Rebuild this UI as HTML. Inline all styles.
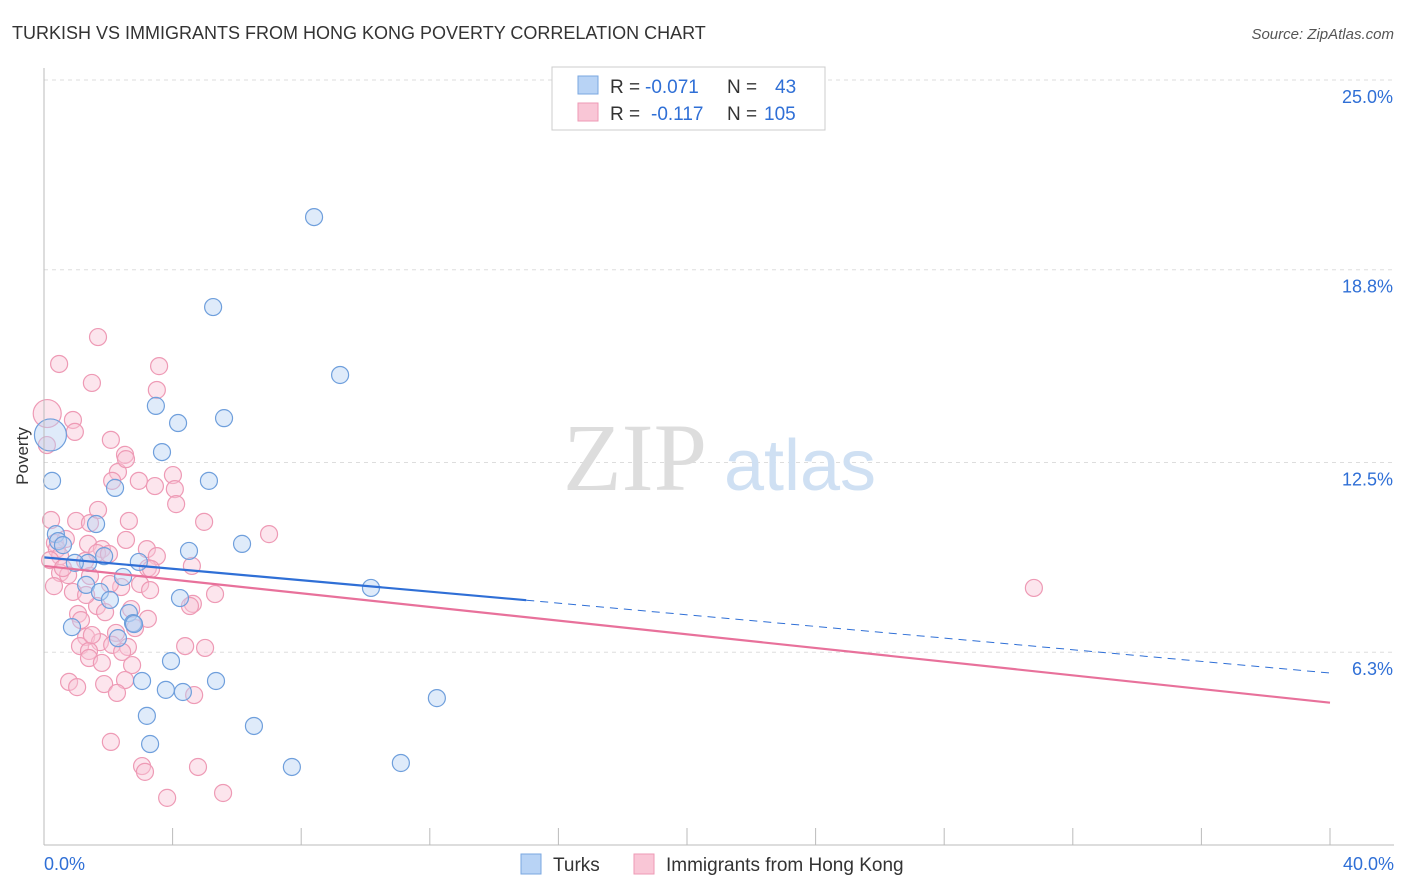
<!DOCTYPE html>
<html><head><meta charset="utf-8"><style>
body{margin:0;background:#fff;font-family:"Liberation Sans",sans-serif}
svg{display:block}
</style></head><body>
<svg id="chart" width="1406" height="892">
<text x="12" y="39" font-size="18" fill="#333">TURKISH VS IMMIGRANTS FROM HONG KONG POVERTY CORRELATION CHART</text>
<text x="1394" y="39" font-size="15" fill="#555" text-anchor="end" font-style="italic">Source: ZipAtlas.com</text>
<g id="grid"></g>
<text x="635" y="490" font-size="96" fill="#ddd" text-anchor="middle" font-family="Liberation Serif">ZIP</text>
<text x="800" y="490" font-size="72" fill="#cfe0f3" text-anchor="middle">atlas</text>
<g id="points"></g>
<g id="lines"></g>
<g id="axes"></g>
<text x="28" y="456" font-size="17" fill="#333" transform="rotate(-90 28 456)" text-anchor="middle">Poverty</text>
<g>
<rect x="552" y="67" width="273" height="63" fill="#fff" stroke="#ccc"/>
<rect x="578" y="76" width="20" height="18" fill="#b8d3f5" stroke="#7aa7e0"/>
<rect x="578" y="103" width="20" height="18" fill="#f9c6d6" stroke="#ee9ab5"/>
<text x="610" y="93" font-size="19" fill="#333">R =</text>
<text x="645" y="93" font-size="19" fill="#2f6fd6">-0.071</text>
<text x="727" y="93" font-size="19" fill="#333">N =</text>
<text x="775" y="93" font-size="19" fill="#2f6fd6">43</text>
<text x="610" y="120" font-size="19" fill="#333">R =</text>
<text x="651" y="120" font-size="19" fill="#2f6fd6">-0.117</text>
<text x="727" y="120" font-size="19" fill="#333">N =</text>
<text x="764" y="120" font-size="19" fill="#2f6fd6">105</text>
</g>
<g>
<rect x="521" y="854" width="20" height="20" fill="#b8d3f5" stroke="#7aa7e0"/>
<text x="553" y="871" font-size="19" fill="#333">Turks</text>
<rect x="634" y="854" width="20" height="20" fill="#f9c6d6" stroke="#ee9ab5"/>
<text x="666" y="871" font-size="19" fill="#333">Immigrants from Hong Kong</text>
</g>
</svg>
<script>
const NS="http://www.w3.org/2000/svg";
const yTicks=[25,18.8,12.5,6.3];
const yTickLabels=["25.0%","18.8%","12.5%","6.3%"];
const xLabels=["0.0%","40.0%"];
const bluePx=[[314,217],[213,307],[340,375],[156,406],[178,423],[224,418],[162,452],[209,481],[115,488],[52,481],[96,524],[56,534],[242,544],[189,551],[104,556],[139,562],[88,563],[123,577],[86,585],[100,592],[110,600],[180,598],[371,588],[129,613],[133,623],[72,627],[118,638],[171,661],[142,681],[166,690],[183,692],[216,681],[437,698],[147,716],[254,726],[150,744],[292,767],[401,763],[58,541],[63,545],[75,563],[134,624]];
const pinkPx=[[98,337],[59,364],[159,366],[92,383],[157,390],[73,420],[75,432],[111,440],[47,445],[125,455],[118,472],[173,475],[139,481],[155,486],[175,489],[112,481],[176,504],[51,520],[76,521],[204,522],[129,521],[90,523],[269,534],[126,540],[55,543],[88,544],[102,549],[66,539],[147,549],[57,549],[60,556],[97,553],[157,556],[109,554],[85,561],[148,568],[60,573],[68,575],[90,576],[192,566],[54,586],[121,587],[140,584],[73,592],[151,569],[215,594],[97,606],[193,604],[78,614],[81,620],[131,609],[148,619],[116,633],[86,637],[80,646],[100,642],[112,645],[128,647],[89,651],[185,646],[205,648],[122,652],[89,658],[102,663],[132,665],[69,682],[104,684],[77,687],[125,680],[194,695],[117,693],[111,742],[142,766],[198,767],[145,772],[223,793],[167,798],[1034,588],[126,459],[98,510],[50,560],[63,568],[110,584],[150,590],[86,595],[190,606],[105,612],[135,628],[92,635]];
const blueData=bluePx.map(p=>[+((p[0]-44)/1286*40).toFixed(2),+(25-(p[1]-80)/30.6).toFixed(2)]);
const pinkData=pinkPx.map(p=>[+((p[0]-44)/1286*40).toFixed(2),+(25-(p[1]-80)/30.6).toFixed(2)]);
const blueBig=[[0.2,13.4]];
const pinkBig=[[0.1,14.1]];
const blueTrend=[[0,9.4],[15,8.0],[40,5.62]];
const pinkTrend=[[0,9.12],[40,4.65]];
const X=v=>44+v/40*1286, Y=v=>80+(25-v)*30.6;
function mk(t,a,p){const e=document.createElementNS(NS,t);for(const k in a)e.setAttribute(k,a[k]);p.appendChild(e);return e;}
const grid=document.getElementById('grid'),axes=document.getElementById('axes');
yTicks.forEach((t,i)=>{
 const l=mk('line',{x1:44,x2:1394,y1:Y(t),y2:Y(t),stroke:'#ddd','stroke-dasharray':'4,4'},grid);
 
 
 const tx=mk('text',{x:1393,y:Y(t)+23,'font-size':18,fill:'#2f6fd6','text-anchor':'end'},axes);
 tx.textContent=yTickLabels[i];
 
 
});
const ax=mk('line',{x1:44,x2:1394,y1:845,y2:845,stroke:'#bbb'},axes);


const ay=mk('line',{x1:44,x2:44,y1:68,y2:845,stroke:'#bbb'},axes);


for(let i=0;i<=10;i++){const t=mk('line',{x1:X(i*4),x2:X(i*4),y1:828,y2:845,stroke:'#bbb'},axes);
 
 }
[[0,'start',44],[1,'end',1394]].forEach(([i,a,x])=>{const t=mk('text',{x:x,y:870,'font-size':18,fill:'#2f6fd6','text-anchor':a},axes);t.textContent=xLabels[i];
 
 });
const pts=document.getElementById('points');
function dots(data,r,fill,stroke,name){data.forEach(d=>{const c=mk('circle',{cx:X(d[0]),cy:Y(d[1]),r:r,fill:fill,stroke:stroke,'stroke-width':1.2},pts);
 
 });}
dots(pinkData,8.5,'rgba(249,198,214,0.45)','#ee9ab5','hk-point');
dots(pinkBig,14,'rgba(249,198,214,0.45)','#ee9ab5','hk-point');
dots(blueData,8.5,'rgba(184,211,245,0.45)','#6f9fdc','turks-point');
dots(blueBig,16,'rgba(184,211,245,0.45)','#6f9fdc','turks-point');
const ln=document.getElementById('lines');
let b1=mk('line',{x1:X(blueTrend[0][0]),y1:Y(blueTrend[0][1]),x2:X(blueTrend[1][0]),y2:Y(blueTrend[1][1]),stroke:'#2f6fd6','stroke-width':2.2},ln);


let b2=mk('line',{x1:X(blueTrend[1][0]),y1:Y(blueTrend[1][1]),x2:X(blueTrend[2][0]),y2:Y(blueTrend[2][1]),stroke:'#2f6fd6','stroke-width':1,'stroke-dasharray':'8,6'},ln);


let p1=mk('line',{x1:X(pinkTrend[0][0]),y1:Y(pinkTrend[0][1]),x2:X(pinkTrend[1][0]),y2:Y(pinkTrend[1][1]),stroke:'#e8719b','stroke-width':2.2},ln);


</script>
</body></html>
